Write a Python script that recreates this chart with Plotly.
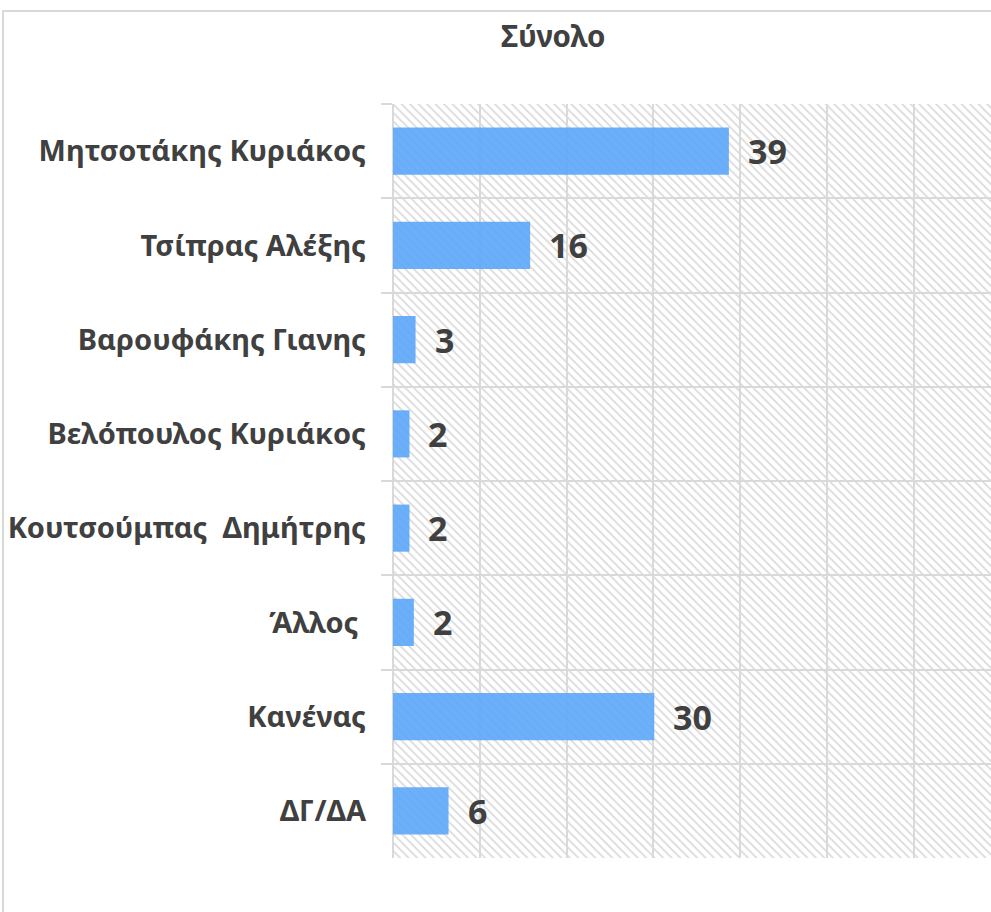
import plotly.graph_objects as go

categories = ["Μητσοτάκης Κυριάκος", "Τσίπρας Αλέξης", "Βαρουφάκης Γιανης",
              "Βελόπουλος Κυριάκος", "Κουτσούμπας\u00a0 Δημήτρης", "Άλλος\u00a0",
              "Κανένας", "ΔΓ/ΔΑ"]
values = [38.7, 15.8, 2.6, 1.9, 1.9, 2.4, 30.1, 6.4]
value_labels = ["39", "16", "3", "2", "2", "2", "30", "6"]
title_text = "Σύνολο"

X_MAX = 68.9
FONT = "Noto Sans"
TXT = "#404040"
GRID = "#d9d9d9"

fig = go.Figure()

# hatched plot background
fig.add_trace(go.Bar(
    y=categories, x=[X_MAX * 2] * len(categories), orientation="h", width=1,
    marker=dict(color="rgba(0,0,0,0)", line=dict(width=0),
                pattern=dict(shape="\\", fgcolor="#dadada", size=6, solidity=0.3,
                             fillmode="replace")),
    hoverinfo="skip", showlegend=False))

fig.add_trace(go.Bar(
    y=categories, x=values, orientation="h", width=0.5,
    marker=dict(color="rgb(92,167,250)", line=dict(width=0)), opacity=0.9,
    showlegend=False))

for c, v, t in zip(categories, values, value_labels):
    fig.add_annotation(x=v, y=c, text="<b>%s</b>" % t, showarrow=False,
                       xanchor="left", yanchor="middle", xshift=17,
                       font=dict(family=FONT, size=34, color=TXT))

fig.add_annotation(x=(553 - 393) / 598, y=(858 - 35) / 754, xref="paper", yref="paper",
                   text="<b>%s</b>" % title_text, showarrow=False,
                   xanchor="center", yanchor="middle",
                   font=dict(family=FONT, size=29.5, color=TXT))

fig.add_shape(type="rect", xref="paper", yref="paper",
              x0=(3 - 393) / 598, x1=1.5, y0=-0.3, y1=(858 - 11) / 754,
              line=dict(color=GRID, width=2), fillcolor="rgba(0,0,0,0)", layer="below")

fig.update_layout(
    width=991, height=912,
    margin=dict(l=393, r=0, t=104, b=54),
    paper_bgcolor="white", plot_bgcolor="white",
    barmode="overlay",
    font=dict(family=FONT, color=TXT),
    xaxis=dict(range=[0, X_MAX], dtick=10, showticklabels=False, showgrid=True,
               gridcolor=GRID, gridwidth=2, zeroline=True, zerolinecolor=GRID,
               zerolinewidth=2, showline=False, fixedrange=True),
    yaxis=dict(categoryorder="array", categoryarray=categories, autorange="reversed",
               tickson="boundaries", ticks="outside", ticklen=11, tickcolor=GRID,
               tickwidth=2, showgrid=True, gridcolor=GRID, gridwidth=2,
               showline=False, ticklabelstandoff=26, fixedrange=True,
               tickfont=dict(family=FONT, size=29, color=TXT, weight="bold")),
)

fig.write_html("out.html", config={"displayModeBar": False},
               post_script="document.body.style.margin='0';document.body.style.overflow='hidden';")
